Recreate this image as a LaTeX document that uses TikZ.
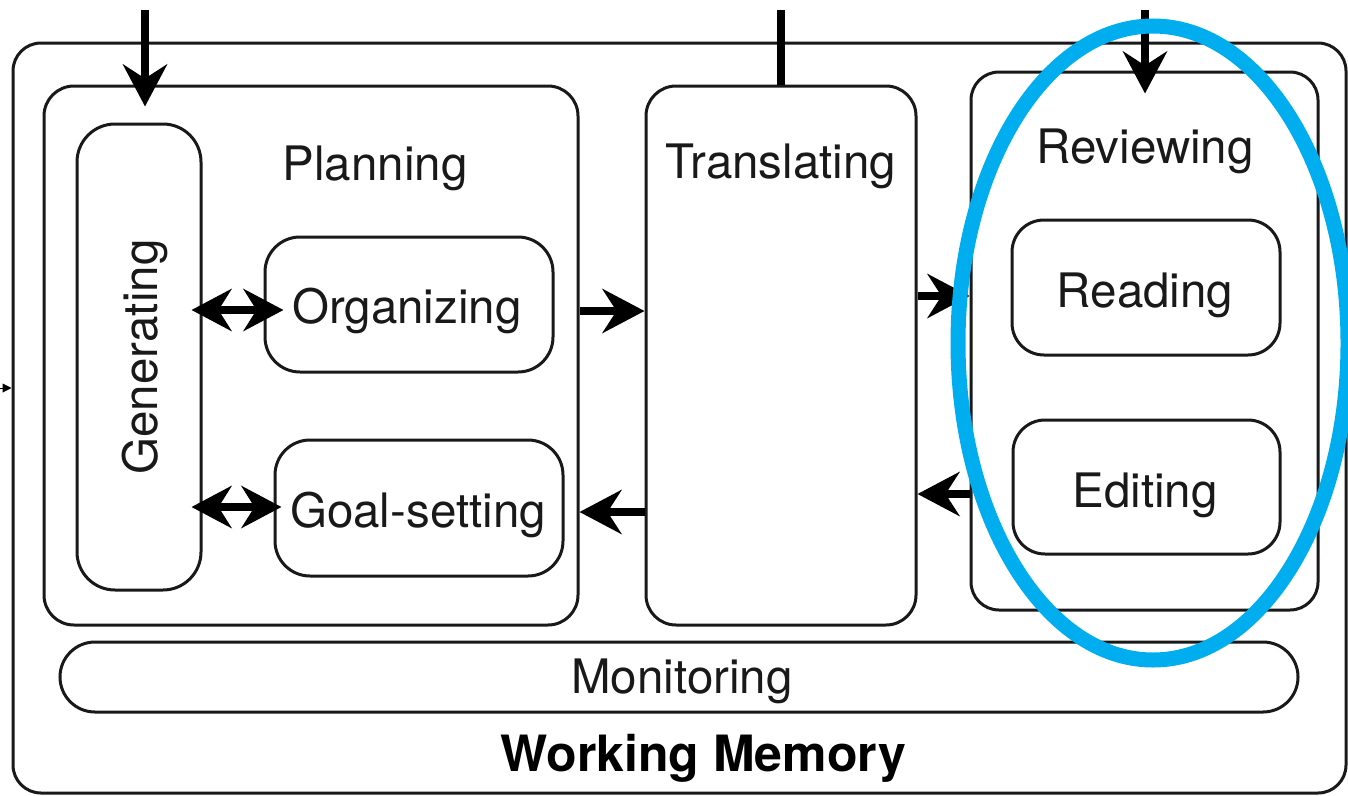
\documentclass[tikz,border=0pt]{standalone}
\usepackage{fontspec}
\setmainfont{TeX Gyre Heros}
\usetikzlibrary{arrows.meta,calc}
\definecolor{hiblue}{RGB}{0,174,239}
\definecolor{ink}{RGB}{25,25,25}
\begin{document}
\begin{tikzpicture}[x=1pt,y=-1pt,
  box/.style={draw=ink, line width=3pt, rectangle, inner sep=0pt},
  lbl/.style={font=\fontsize{47.5}{52}\selectfont, text=ink, inner sep=0pt, anchor=base},
  flow/.style={line width=8pt, draw=black, -{Stealth[length=42pt,width=44pt,inset=14pt]}},
  flowboth/.style={line width=8pt, draw=black, {Stealth[length=40pt,width=42pt,inset=13pt]}-{Stealth[length=40pt,width=42pt,inset=13pt]}},
]
\useasboundingbox (0,0) rectangle (1348,795);
\clip (0,0) rectangle (1348,795);

% boxes
\node[box, rounded corners=28pt, minimum width=1333pt, minimum height=750pt] (outer) at (679.5,418) {};
\node[box, rounded corners=30pt, minimum width=534pt, minimum height=539pt] (planning) at (311,355.5) {};
\node[box, rounded corners=38pt, minimum width=124pt, minimum height=466pt] (generating) at (139,357) {};
\node[box, rounded corners=35pt, minimum width=288pt, minimum height=135pt] (organizing) at (409,304.5) {};
\node[box, rounded corners=35pt, minimum width=288pt, minimum height=136pt] (goal) at (419,508) {};
\node[box, rounded corners=30pt, minimum width=270pt, minimum height=539pt] (translating) at (781,355.5) {};
\node[box, rounded corners=28pt, minimum width=347pt, minimum height=538pt] (reviewing) at (1144.5,341) {};
\node[box, rounded corners=32pt, minimum width=268pt, minimum height=135pt] (reading) at (1146,287.5) {};
\node[box, rounded corners=32pt, minimum width=267pt, minimum height=134pt] (editing) at (1146.5,487) {};
\node[box, rounded corners=35pt, minimum width=1238pt, minimum height=70pt] (monitoring) at (679,677) {};

% labels
\node[lbl] (planlbl) at (375,180) {Planning};
\node[lbl] (translbl) at (781,178) {Translating};
\node[lbl] (revlbl) at (1145,163) {Reviewing};
\node[lbl] (orglbl) at (407,323) {Organizing};
\node[lbl] (goallbl) at (418,527) {Goal-setting};
\node[lbl] (readlbl) at (1145,307) {Reading};
\node[lbl] (editlbl) at (1145,507) {Editing};
\node[lbl] (monlbl) at (682,693) {Monitoring};
\node[lbl, rotate=90] (genlbl) at (157,357) {Generating};
\node[lbl, font=\bfseries\fontsize{50}{54}\selectfont, text=black] (wmlbl) at (703.5,771) {Working Memory};

% incoming lines from above
\coordinate (in1) at (145,10);
\coordinate (in2) at (781,10);
\coordinate (in3) at (1145,10);
\draw[flow, shorten >=16pt] (in1) -- (in1 |- generating.north);
\draw[line width=8pt] (in2) -- (translating.north);
\draw[flow, shorten >=-23pt] (in3) -- (in3 |- reviewing.north);

% left edge stub
\coordinate (lin) at (0,388);
\draw[line width=1pt, -{Triangle[length=9pt,width=9pt]}] (lin) -- (outer.west |- lin);

% horizontal flows
\draw[flow] (planning.east |- 0,311) -- (translating.west |- 0,311);
\draw[flow] (translating.west |- 0,512) -- (planning.east |- 0,512);
\draw[flow] (translating.east |- 0,296) -- (reviewing.west |- 0,296);
\draw[flow] (reviewing.west |- 0,494) -- (translating.east |- 0,494);

% double arrows
\draw[flowboth, shorten <=-11pt, shorten >=-20pt] (generating.east |- 0,310) -- (organizing.west |- 0,310);
\draw[flowboth, shorten <=-11pt, shorten >=-8pt] (generating.east |- 0,507) -- (goal.west |- 0,507);

% highlight ellipse
\draw[hiblue, line width=15pt] (1153,343) ellipse [x radius=195, y radius=317];
\end{tikzpicture}
\end{document}
